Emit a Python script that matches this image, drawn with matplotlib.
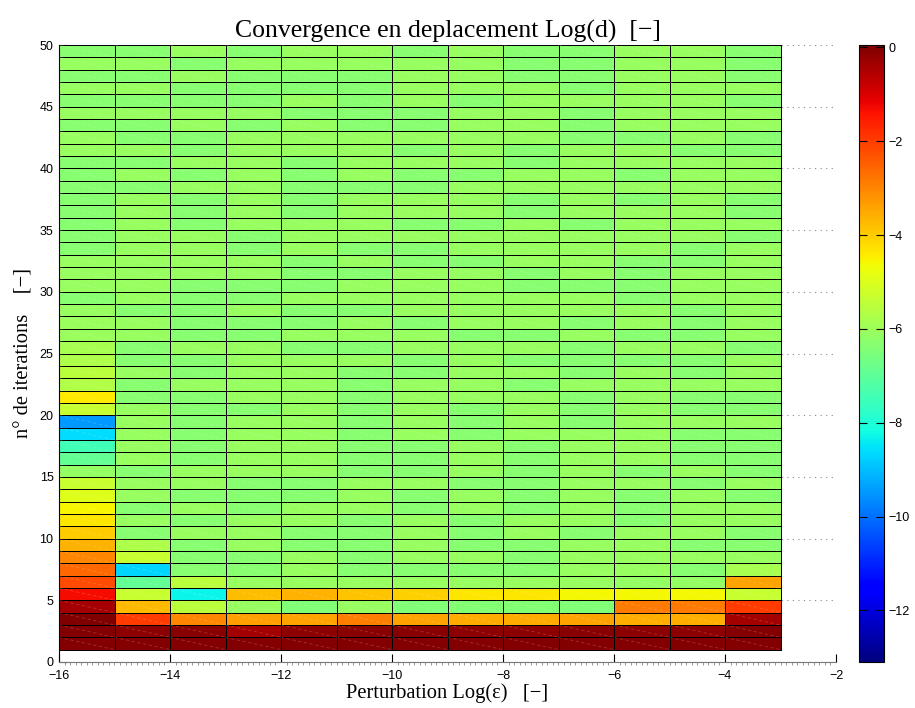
import numpy as np
import matplotlib
matplotlib.use('Agg')
import matplotlib.pyplot as plt
from matplotlib.ticker import MultipleLocator
from matplotlib.collections import LineCollection

# ---- data ----
log_eps_edges = [-16, -15, -14, -13, -12, -11, -10, -9, -8, -7, -6, -5, -4, -3]
iteration_edges = list(range(1, 51))

# log10 of displacement, one row per iteration (1 -> 49), one column per perturbation
log_d = [
    [-0.02, -0.05, -0.03, -0.05, -0.03, -0.02, -0.03, -0.03, -0.03, -0.03, -0.03, -0.03, -0.05],  # 1
    [-0.05, -0.15, -0.10, -0.40, -0.15, -0.10, -0.10, -0.12, -0.12, -0.10, -0.12, -0.12, -0.05],  # 2
    [0.00, -2.00, -3.00, -3.35, -3.40, -2.90, -3.40, -3.50, -3.50, -3.40, -3.55, -3.55, -0.40],   # 3
    [-0.40, -3.70, -5.50, -6.10, -6.45, -6.10, -6.45, -6.40, -6.40, -6.45, -2.85, -2.85, -2.00],  # 4
    [-1.30, -5.30, -8.30, -3.80, -3.60, -3.90, -4.05, -4.35, -4.35, -4.60, -4.60, -4.60, -5.30],  # 5
    [-2.20, -6.90, -5.50, -6.10, -6.10, -6.10, -6.10, -6.10, -6.10, -6.10, -6.15, -6.15, -3.40],  # 6
    [-2.60, -8.70, -6.35, -6.35, -6.10, -6.35, -6.35, -6.35, -6.35, -6.10, -6.10, -6.35, -5.85],  # 7
    [-3.00, -5.30, -6.35, -6.35, -6.10, -6.35, -6.10, -6.10, -6.35, -6.10, -6.10, -6.10, -6.10],  # 8
    [-3.60, -5.75, -6.35, -6.10, -6.35, -6.35, -6.10, -6.35, -6.35, -6.10, -6.10, -6.35, -6.35],  # 9
    [-4.00, -6.35, -6.10, -6.10, -6.35, -6.35, -6.10, -6.35, -6.10, -6.35, -6.10, -6.10, -6.35],  # 10
    [-4.35, -6.10, -6.35, -6.10, -6.10, -6.35, -6.10, -6.35, -6.10, -6.10, -6.35, -6.10, -6.10],  # 11
    [-4.55, -6.35, -6.10, -6.35, -6.10, -6.10, -6.35, -6.10, -6.35, -6.10, -6.35, -6.10, -6.10],  # 12
    [-4.95, -6.10, -6.35, -6.35, -6.35, -6.10, -6.35, -6.10, -6.35, -6.10, -6.35, -6.10, -6.35],  # 13
    [-5.30, -6.10, -6.10, -6.35, -6.35, -6.10, -6.10, -6.35, -6.35, -6.10, -6.10, -6.35, -6.10],  # 14
    [-6.15, -6.35, -6.10, -6.10, -6.10, -6.35, -6.35, -6.10, -6.35, -6.10, -6.35, -6.10, -6.35],  # 15
    [-6.90, -6.10, -6.35, -6.10, -6.10, -6.35, -6.35, -6.10, -6.35, -6.10, -6.10, -6.35, -6.35],  # 16
    [-7.50, -6.10, -6.35, -6.10, -6.10, -6.35, -6.35, -6.10, -6.35, -6.10, -6.10, -6.35, -6.35],  # 17
    [-8.60, -6.10, -6.35, -6.10, -6.10, -6.35, -6.10, -6.35, -6.10, -6.10, -6.10, -6.35, -6.35],  # 18
    [-9.50, -6.10, -6.35, -6.10, -6.10, -6.35, -6.10, -6.35, -6.10, -6.35, -6.10, -6.10, -6.10],  # 19
    [-5.30, -6.10, -6.35, -6.35, -6.10, -6.35, -6.10, -6.35, -6.10, -6.35, -6.10, -6.35, -6.35],  # 20
    [-4.40, -6.35, -6.35, -6.10, -6.10, -6.35, -6.10, -6.10, -6.10, -6.35, -6.10, -6.35, -6.35],  # 21
    [-5.70, -6.35, -6.10, -6.10, -6.10, -6.35, -6.10, -6.10, -6.35, -6.10, -6.10, -6.10, -6.10],  # 22
    [-5.50, -6.10, -6.35, -6.10, -6.10, -6.35, -6.35, -6.10, -6.10, -6.35, -6.10, -6.35, -6.10],  # 23
    [-5.75, -6.35, -6.35, -6.10, -6.10, -6.10, -6.35, -6.10, -6.35, -6.35, -6.35, -6.35, -6.10],  # 24
    [-5.85, -6.35, -6.10, -6.10, -6.35, -6.35, -6.10, -6.10, -6.10, -6.35, -6.10, -6.10, -6.35],  # 25
    [-6.05, -6.10, -6.35, -6.35, -6.10, -6.10, -6.10, -6.35, -6.35, -6.10, -6.35, -6.35, -6.10],  # 26
    [-6.05, -6.10, -6.35, -6.35, -6.35, -6.10, -6.35, -6.10, -6.10, -6.35, -6.10, -6.35, -6.10],  # 27
    [-6.10, -6.35, -6.35, -6.10, -6.35, -6.35, -6.10, -6.10, -6.10, -6.10, -6.10, -6.35, -6.10],  # 28
    [-6.35, -6.10, -6.35, -6.35, -6.10, -6.10, -6.10, -6.10, -6.10, -6.10, -6.35, -6.10, -6.10],  # 29
    [-6.10, -6.10, -6.35, -6.35, -6.35, -6.10, -6.10, -6.10, -6.35, -6.35, -6.35, -6.10, -6.10],  # 30
    [-6.10, -6.10, -6.10, -6.10, -6.35, -6.35, -6.10, -6.10, -6.35, -6.10, -6.35, -6.10, -6.10],  # 31
    [-6.10, -6.10, -6.10, -6.10, -6.35, -6.10, -6.35, -6.35, -6.10, -6.10, -6.35, -6.35, -6.10],  # 32
    [-6.35, -6.10, -6.10, -6.35, -6.10, -6.35, -6.35, -6.10, -6.10, -6.10, -6.10, -6.35, -6.10],  # 33
    [-6.35, -6.10, -6.10, -6.35, -6.10, -6.10, -6.10, -6.10, -6.10, -6.10, -6.10, -6.10, -6.35],  # 34
    [-6.35, -6.10, -6.35, -6.10, -6.10, -6.10, -6.35, -6.35, -6.10, -6.35, -6.10, -6.10, -6.10],  # 35
    [-6.35, -6.10, -6.35, -6.10, -6.35, -6.10, -6.10, -6.10, -6.35, -6.10, -6.10, -6.10, -6.35],  # 36
    [-6.35, -6.10, -6.35, -6.10, -6.35, -6.10, -6.10, -6.10, -6.35, -6.10, -6.35, -6.10, -6.35],  # 37
    [-6.35, -6.35, -6.10, -6.10, -6.35, -6.35, -6.35, -6.10, -6.10, -6.10, -6.10, -6.10, -6.10],  # 38
    [-6.35, -6.10, -6.35, -6.10, -6.35, -6.10, -6.35, -6.35, -6.10, -6.10, -6.35, -6.10, -6.10],  # 39
    [-6.35, -6.35, -6.10, -6.10, -6.35, -6.10, -6.10, -6.10, -6.35, -6.10, -6.10, -6.10, -6.10],  # 40
    [-6.10, -6.10, -6.35, -6.10, -6.10, -6.10, -6.35, -6.10, -6.35, -6.10, -6.10, -6.35, -6.35],  # 41
    [-6.10, -6.35, -6.35, -6.10, -6.10, -6.10, -6.10, -6.10, -6.10, -6.35, -6.35, -6.10, -6.35],  # 42
    [-6.35, -6.35, -6.10, -6.35, -6.10, -6.35, -6.35, -6.10, -6.10, -6.35, -6.10, -6.10, -6.10],  # 43
    [-6.10, -6.10, -6.10, -6.10, -6.35, -6.35, -6.35, -6.10, -6.10, -6.35, -6.10, -6.10, -6.10],  # 44
    [-6.35, -6.35, -6.35, -6.35, -6.10, -6.35, -6.10, -6.35, -6.10, -6.10, -6.10, -6.10, -6.35],  # 45
    [-6.10, -6.10, -6.35, -6.35, -6.35, -6.35, -6.10, -6.10, -6.10, -6.35, -6.10, -6.10, -6.10],  # 46
    [-6.35, -6.35, -6.10, -6.35, -6.35, -6.35, -6.10, -6.10, -6.35, -6.35, -6.10, -6.10, -6.35],  # 47
    [-6.10, -6.10, -6.35, -6.10, -6.10, -6.10, -6.10, -6.10, -6.35, -6.35, -6.10, -6.10, -6.35],  # 48
    [-6.35, -6.35, -6.10, -6.35, -6.10, -6.10, -6.35, -6.10, -6.35, -6.35, -6.10, -6.10, -6.35],  # 49
]

color_limits = [-13.1, 0.05]
x_ticks = [-16, -14, -12, -10, -8, -6, -4, -2]
y_ticks = [0, 5, 10, 15, 20, 25, 30, 35, 40, 45, 50]
cbar_ticks = [0, -2, -4, -6, -8, -10, -12]

title_text = "Convergence en deplacement Log(d)  [\u2212]"
xlabel_text = "Perturbation Log(\u03b5)   [\u2212]"
ylabel_text = "n\u00b0 de iterations    [\u2212]"

# ---- figure ----
W, H = 915, 708
fig = plt.figure(figsize=(W / 100, H / 100), dpi=100)
ax = fig.add_axes([59 / W, (H - 662) / H, 777 / W, 617 / H])
cax = fig.add_axes([859 / W, (H - 662) / H, 25 / W, 617 / H])

sans = ['Liberation Sans', 'DejaVu Sans']
serif = ['Liberation Serif', 'DejaVu Serif']

C = np.array(log_d)
X, Y = np.meshgrid(log_eps_edges, iteration_edges)
mesh = ax.pcolormesh(X, Y, C, cmap='jet', vmin=color_limits[0], vmax=color_limits[1],
                     edgecolors='black', linewidth=0.7, zorder=1)

# faint diagonal artefacts inside each cell (as in the exported figure)
segs = []
for j in range(len(iteration_edges) - 1):
    for i in range(len(log_eps_edges) - 1):
        segs.append([(log_eps_edges[i], iteration_edges[j + 1]),
                     (log_eps_edges[i + 1], iteration_edges[j])])
lc = LineCollection(segs, colors='white', linewidths=0.6, alpha=0.2,
                    linestyles=(0, (4, 3)), zorder=2)
ax.add_collection(lc)

ax.set_xlim(-16, -2)
ax.set_ylim(0, 50)
ax.set_axisbelow(True)
ax.yaxis.grid(True, linestyle=(0, (1, 4)), color='#888888', linewidth=0.8)
ax.xaxis.grid(False)

for s in ['top', 'right']:
    ax.spines[s].set_visible(False)
ax.spines['left'].set_color('black')
ax.spines['left'].set_linewidth(0.8)
ax.spines['bottom'].set_color('#777777')
ax.spines['bottom'].set_linewidth(0.8)

ax.set_xticks(x_ticks)
ax.set_yticks(y_ticks)
ax.xaxis.set_minor_locator(MultipleLocator(0.1))
ax.tick_params(axis='both', which='major', direction='in', length=6, width=0.8,
               labelsize=9, color='black', pad=4)
ax.tick_params(axis='x', which='major', pad=6)
ax.tick_params(axis='x', which='minor', direction='out', length=2.5, width=0.6, color='#888888')
for lab in ax.get_xticklabels() + ax.get_yticklabels():
    lab.set_fontfamily(sans)

ax.set_title(title_text, fontsize=18.5, family=serif, pad=5)
ax.set_xlabel(xlabel_text, fontsize=14.8, family=serif, labelpad=1)
ax.set_ylabel(ylabel_text, fontsize=14.8, family=serif, labelpad=4)

cb = fig.colorbar(mesh, cax=cax)
cb.set_ticks(cbar_ticks)
cb.outline.set_linewidth(0.8)
cax.tick_params(direction='in', length=6, width=0.8, labelsize=9, left=True, right=True)
for lab in cax.get_yticklabels():
    lab.set_fontfamily(sans)

fig.savefig('out.png', dpi=100)
